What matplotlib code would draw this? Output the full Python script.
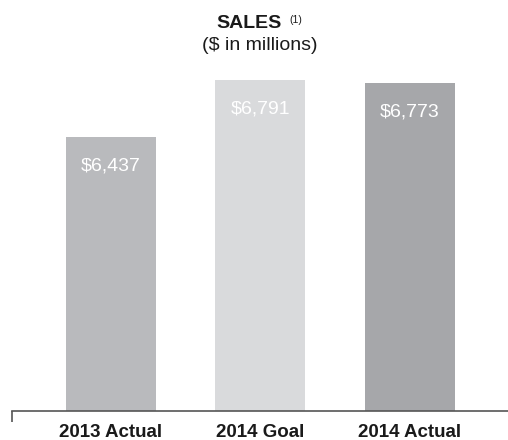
import matplotlib.pyplot as plt

# ==========================================
# DATA
# ==========================================

categories = ["2013 Actual", "2014 Goal", "2014 Actual"]
sales = [6437, 6791, 6773]
value_labels = ["$6,437", "$6,791", "$6,773"]

# ==========================================
# THEME
# ==========================================

BAR_COLORS = ["#b9babd", "#d9dadc", "#a6a7aa"]
TEXT = "#1a1a1a"
LINE = "#555555"

plt.rcParams["font.family"] = ["Liberation Sans", "DejaVu Sans"]

# ==========================================
# CHART
# ==========================================

W, H = 508, 440
fig = plt.figure(figsize=(W / 100, H / 100), dpi=100, facecolor="white")

# axes placed in pixel terms: left 12, right 508, top 60, bottom 411
ax = fig.add_axes([12 / W, (H - 411) / H, (508 - 12) / W, (411 - 60) / H])

x = range(len(categories))
bars = ax.bar(x, sales, width=0.602, color=BAR_COLORS)

ax.set_xlim(-0.662, 2.656)
ax.set_ylim(4735, 6918)

# ==========================================
# VALUE LABELS
# ==========================================

for bar, label in zip(bars, value_labels):
    ax.annotate(
        label,
        (bar.get_x() + bar.get_width() / 2, bar.get_height()),
        xytext=(0, -20.5),
        textcoords="offset points",
        ha="center",
        va="center",
        fontsize=14,
        color="white"
    )

# ==========================================
# AXIS STYLE
# ==========================================

ax.set_xticks(list(x))
ax.set_xticklabels(categories, fontsize=13.5, color=TEXT, fontweight="bold")
ax.tick_params(axis="x", length=0, pad=9)
ax.set_yticks([])

for side in ["top", "right", "left"]:
    ax.spines[side].set_visible(False)
ax.spines["bottom"].set_color(LINE)
ax.spines["bottom"].set_linewidth(1.2)

# small tick hanging below the left end of the baseline
ax.plot([0, 0], [0, -0.032], transform=ax.transAxes, color=LINE,
        linewidth=1.2, clip_on=False, solid_capstyle="butt")

# ==========================================
# TITLES
# ==========================================

fig.text(249 / W, 1 - 23 / H, "SALES", ha="center", va="center",
         fontsize=14, fontweight="bold", color=TEXT)
fig.text(289 / W, 1 - 20 / H, "(1)", ha="left", va="center",
         fontsize=7.5, color=TEXT)
fig.text(260 / W, 1 - 46 / H, "($ in millions)", ha="center", va="center",
         fontsize=14, color=TEXT)

plt.savefig("out.png", dpi=100, facecolor="white")
plt.close()
